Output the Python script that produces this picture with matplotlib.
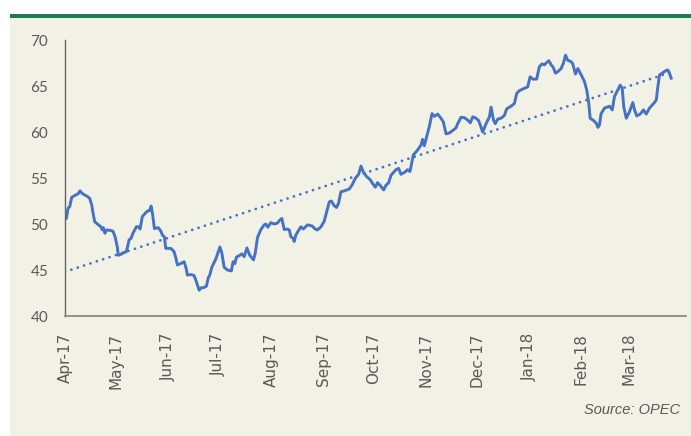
#!/usr/bin/env python

"""
OPEC basket price, Apr-17 to Mar-18, with linear trend
"""

import numpy as np
import pandas as pd
import matplotlib
matplotlib.use('Agg')
import matplotlib.pyplot as plt
from matplotlib.patches import Rectangle

# days after 1 Apr 2017 and price ($/b)
days = [0.0, 0.8, 1.8, 2.8, 4.0, 6.3, 7.9, 8.9, 10.3, 13.2, 14.6, 15.8, 16.6, 17.6,
        19.2, 21.2, 22.1, 22.7, 23.7, 24.5, 27.1, 28.5, 29.7, 31.0, 31.6, 33.0, 35.0,
        36.4, 38.0, 39.0, 40.3, 42.3, 43.5, 44.5, 45.8, 48.2, 49.8, 50.4, 51.0, 51.8,
        53.0, 55.3, 56.9, 57.7, 58.9, 59.7, 62.7, 64.6, 65.7, 66.6, 68.6, 70.6, 71.9,
        72.5, 74.6, 76.5, 77.9, 79.5, 80.5, 82.4, 83.8, 85.0, 85.8, 87.0, 89.4, 91.8,
        92.9, 94.3, 96.3, 98.6, 99.6, 100.7, 101.6, 103.6, 104.8, 106.2, 107.8, 109.5,
        111.7, 112.7, 114.1, 116.1, 118.0, 119.0, 120.2, 122.0, 124.0, 125.9, 126.9,
        128.5, 129.9, 131.9, 132.9, 133.9, 135.2, 135.8, 136.8, 138.4, 139.8, 141.2,
        143.7, 146.3, 148.3, 149.6, 151.7, 153.6, 155.0, 156.6, 157.8, 159.5, 160.9,
        162.1, 163.5, 165.5, 168.4, 170.0, 172.0, 174.0, 175.4, 176.7, 178.7, 180.7,
        182.3, 183.9, 185.2, 187.2, 188.8, 190.2, 191.8, 193.2, 195.1, 196.1, 197.7,
        199.1, 201.1, 203.0, 204.4, 205.0, 206.4, 209.0, 211.0, 211.9, 212.9, 214.3,
        215.9, 217.5, 218.9, 220.8, 222.8, 224.2, 225.8, 227.8, 229.7, 231.7, 232.7,
        234.7, 236.7, 238.6, 240.2, 241.6, 243.6, 245.1, 246.6, 247.5, 249.5, 251.5,
        252.5, 253.9, 255.0, 256.4, 258.4, 260.4, 261.7, 263.3, 264.3, 266.3, 267.7,
        269.3, 272.2, 274.2, 275.6, 277.2, 279.5, 281.1, 282.7, 284.1, 285.1, 286.7,
        288.1, 289.4, 290.6, 292.0, 294.0, 295.4, 296.6, 297.9, 299.9, 300.9, 302.5,
        303.9, 305.9, 307.8, 309.2, 310.4, 311.2, 313.2, 314.8, 315.8, 316.7, 317.7,
        319.7, 322.7, 324.3, 325.6, 327.6, 329.0, 330.2, 331.1, 332.6, 334.5, 336.5,
        337.5, 338.8, 340.9, 342.8, 344.4, 346.4, 349.3, 350.4, 351.3, 352.3, 354.3,
        355.9, 357.2, 358.2, 359.2]
price = [50.6, 50.6, 51.7, 51.9, 52.9, 53.15, 53.3, 53.6, 53.3, 53.0, 52.8, 52.1, 51.2, 50.25,
         50.0, 49.7, 49.35, 49.6, 49.0, 49.35, 49.3, 49.2, 48.6, 47.5, 46.6, 46.7, 46.9,
         47.0, 48.3, 48.4, 49.0, 49.7, 49.7, 49.45, 50.8, 51.3, 51.5, 51.45, 51.95, 51.2,
         49.5, 49.6, 49.2, 48.8, 48.6, 47.35, 47.35, 47.0, 46.3, 45.55, 45.7, 45.9, 45.1,
         44.45, 44.5, 44.4, 43.7, 42.8, 43.05, 43.1, 43.25, 44.2, 44.45, 45.3, 46.2, 47.5,
         46.9, 45.3, 45.0, 44.9, 45.9, 45.7, 46.4, 46.6, 46.75, 46.45, 47.4, 46.6,
         46.1, 46.8, 48.55, 49.4, 49.9, 50.0, 49.65, 50.15, 50.0, 50.1, 50.35,
         50.6, 49.4, 49.45, 49.35, 48.6, 48.45, 48.1, 48.8, 49.3, 49.7, 49.45,
         49.9, 49.8, 49.45, 49.35, 49.7, 50.3, 51.3, 52.4, 52.5, 52.0, 51.8,
         52.25, 53.5, 53.6, 53.8, 54.2, 54.95, 55.4, 56.3, 55.7, 55.15, 54.85,
         54.4, 54.0, 54.5, 54.1, 53.7, 54.2, 54.5, 55.3, 55.7, 55.9, 56.05,
         55.4, 55.6, 55.9, 55.7, 56.2, 57.5, 58.05, 58.6, 59.2, 58.5, 59.5,
         60.6, 62.0, 61.7, 61.95, 61.5, 61.1, 59.8, 59.9, 60.15, 60.45, 60.9,
         61.6, 61.55, 61.3, 61.0, 61.65, 61.5, 61.25, 60.5, 60.0, 60.9, 61.65,
         62.7, 61.3, 60.9, 61.4, 61.5, 61.8, 62.5, 62.7, 62.8, 63.1, 64.2,
         64.5, 64.75, 64.9, 66.0, 65.75, 65.75, 67.1, 67.4, 67.3, 67.5, 67.75,
         67.3, 67.0, 66.4, 66.55, 66.9, 67.5, 68.35, 67.8, 67.65, 67.4, 66.3,
         66.9, 66.2, 65.5, 64.55, 63.1, 61.5, 61.25, 60.95, 60.5, 60.75, 62.0,
         62.6, 62.8, 62.4, 63.85, 64.6, 65.1, 64.75, 62.75, 61.5, 62.2, 63.2,
         62.4, 61.75, 61.95, 62.4, 61.95, 62.6, 63.2, 63.5, 64.9, 66.2, 66.45,
         66.65, 66.75, 66.4, 65.85]
month_labels = ['Apr-17', 'May-17', 'Jun-17', 'Jul-17', 'Aug-17', 'Sep-17',
                'Oct-17', 'Nov-17', 'Dec-17', 'Jan-18', 'Feb-18', 'Mar-18']

start = pd.Timestamp('2017-04-01')
dates = start + pd.to_timedelta(days, unit='D')
ticks = pd.date_range(start, periods=len(month_labels), freq='MS')

# linear trend, as the spreadsheet would draw it
x = np.array(days)
slope, icpt = np.polyfit(x, np.array(price), 1)
trend = slope * x + icpt

BG = '#F2F1E6'
BLUE = '#4472C4'
GREY = '#595959'

fig = plt.figure(figsize=(6.91, 4.36), dpi=100)
fig.patch.set_facecolor('white')
fig.patches.append(Rectangle((10 / 691, 0), 1, 1 - 18 / 436, transform=fig.transFigure,
                             facecolor=BG, edgecolor='none', zorder=-10))
fig.patches.append(Rectangle((10 / 691, 1 - 18 / 436), 1, 4 / 436, transform=fig.transFigure,
                             facecolor='#1E7B55', edgecolor='none', zorder=-10))

ax = fig.add_axes([65 / 691, 120 / 436, 621 / 691, 276 / 436])
ax.set_facecolor('none')

ax.plot(dates, price, color=BLUE, lw=2.1, solid_joinstyle='round')
ax.plot(dates, trend, color=BLUE, lw=2.0, linestyle=(0, (0.01, 2.4)),
        dash_capstyle='round')

ax.set_ylim(40, 70)
ax.set_yticks(range(40, 71, 5))
ax.set_xlim(start, start + pd.Timedelta(days=368))
ax.set_xticks(ticks)
ax.set_xticklabels(month_labels, rotation=90, family=['Liberation Sans Narrow', 'DejaVu Sans'],
                   fontsize=11, color=GREY)
for lab in ax.get_yticklabels():
    lab.set_family('Lato')
    lab.set_fontsize(11)
    lab.set_color(GREY)
ax.tick_params(axis='x', length=0, pad=12)
ax.tick_params(axis='y', length=0, pad=12)

for s in ['top', 'right']:
    ax.spines[s].set_visible(False)
ax.spines['left'].set_color('#666666')
ax.spines['bottom'].set_color('#8C8C8C')
ax.spines['left'].set_linewidth(1.0)
ax.spines['bottom'].set_linewidth(1.3)

fig.text(680 / 691, 1 - 410 / 436, 'Source: OPEC', ha='right', va='center',
         style='italic', fontsize=10.5, color=GREY, family='Liberation Sans')

fig.savefig('out.png', dpi=100, facecolor=fig.get_facecolor())
